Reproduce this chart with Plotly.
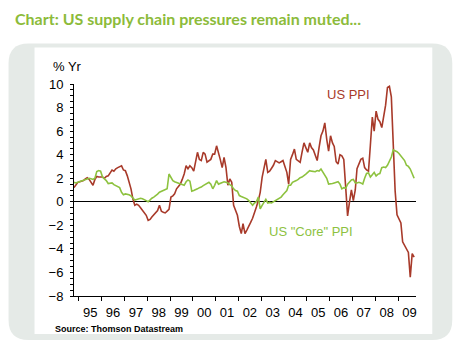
import plotly.graph_objects as go
import pandas as pd

# ---------------- data (monthly, Oct 1994 - Sep 2009) ----------------
start_month = "1994-10-15"
ppi = [
    1.2, 1.4, 1.65,
    1.7, 1.75, 1.8, 1.95, 2.05, 1.9, 1.6, 1.4, 1.9, 2.15, 2.1, 2.1,
    2.1, 2.0, 2.15, 2.2, 2.5, 2.7, 2.6, 2.8, 2.9, 3.0, 3.05, 2.7,
    2.64, 2.2, 1.65, 1.1, 0.25, -0.3, -0.2, -0.3, -0.5, -0.73, -0.9, -1.15,
    -1.58, -1.5, -1.3, -1.1, -0.9, -0.75, -0.3, -0.8, -0.9, -0.95, -0.8, -0.65,
    0.4, 0.5, 0.67, 1.1, 1.3, 1.5, 1.9, 2.36, 3.06, 2.8, 3.06, 2.9,
    2.6, 3.4, 4.2, 3.6, 3.5, 4.2, 4.05, 3.36, 3.5, 3.6, 4.05, 4.05,
    4.75, 4.2, 3.6, 2.9, 3.76, 2.9, 1.4, 1.94, 1.65, -0.3, -0.7, -1.15,
    -2.1, -2.7, -1.86, -2.7, -2.4, -2.0, -1.75, -1.4, -1.0, -0.45, 0.1, 0.8,
    2.07, 2.9, 3.6, 2.5, 2.6, 2.85, 3.1, 3.5, 3.4, 3.3, 3.4, 3.5,
    3.0, 2.5, 1.5, 3.6, 4.0, 4.47, 3.6, 3.5, 3.35, 4.2, 5.0, 4.6,
    4.2, 5.0, 4.6, 4.4, 4.0, 3.5, 4.6, 5.6, 6.0, 6.7, 5.3, 4.3,
    5.6, 5.0, 4.7, 3.4, 3.2, 4.0, 3.9, 3.6, 1.2, -1.2, 0.0, 1.0,
    0.1, 1.0, 2.8, 3.2, 3.6, 3.7, 2.9, 2.7, 2.6, 4.8, 7.2, 6.0,
    7.7, 7.0, 6.8, 6.3, 7.2, 8.2, 9.7, 9.8, 8.9, 4.8, 0.9, -1.1,
    -1.5, -1.8, -3.4, -3.7, -4.1, -4.3, -6.4, -4.4, -4.7,
]
core_ppi = [
    1.65, 1.6, 1.65,
    1.7, 1.75, 1.8, 1.85, 1.95, 2.0, 1.95, 1.9, 2.0, 2.56, 2.65, 2.6,
    2.1, 1.95, 1.8, 1.55, 1.6, 1.6, 1.45, 1.35, 1.3, 1.2, 0.8, 0.6,
    0.67, 0.65, 0.6, 0.5, 0.3, 0.15, 0.2, 0.25, 0.3, 0.25, 0.2, 0.1,
    0.0, 0.2, 0.3, 0.4, 0.5, 0.65, 0.81, 0.9, 0.95, 1.05, 1.1, 2.36,
    2.1, 1.8, 1.7, 1.65, 1.6, 1.55, 1.5, 1.4, 1.7, 1.85, 1.75, 0.9,
    0.95, 1.0, 1.1, 1.2, 1.25, 1.37, 1.45, 1.55, 1.65, 1.5, 1.1, 1.4,
    1.8, 1.5, 1.55, 1.65, 1.7, 1.65, 1.6, 1.45, 1.35, 1.1, 0.95, 0.9,
    0.53, 0.45, 0.4, 0.35, 0.25, 0.1, -0.1, -0.3, -0.1, 0.0, 0.4, -0.6,
    -0.3, 0.0, 0.2, -0.1, -0.05, -0.1, 0.0, 0.1, 0.2, 0.3, 0.4, 0.6,
    0.8, 0.95, 1.4, 1.4, 1.65, 1.7, 1.8, 1.9, 2.05, 2.1, 2.2, 2.35,
    2.5, 2.64, 2.6, 2.6, 2.55, 2.65, 2.6, 2.78, 2.5, 2.35, 2.0, 1.5,
    1.5, 1.55, 1.6, 1.65, 1.7, 1.5, 1.1, 1.2, 1.15, 1.5, 1.65, 1.85,
    1.9, 1.6, 1.6, 1.65, 1.6, 1.5, 2.0, 2.4, 2.45, 2.1, 2.3, 2.5,
    2.2, 2.35, 2.4, 2.9, 2.95, 2.9, 3.1, 3.4, 3.8, 4.4, 4.35, 4.25,
    4.1, 3.9, 3.65, 3.5, 3.1, 3.0, 2.78, 2.4, 2.0,
]
dates = pd.date_range("1994-10-01", periods=len(ppi), freq="MS") + pd.Timedelta(days=14)

y_ticks = [-8, -6, -4, -2, 0, 2, 4, 6, 8, 10]

RED = "#A83A2A"
GREEN = "#8DC23F"
TITLE_GREEN = "#8CBB3A"
PANEL = "#E5EAE7"

# ---------------- layout helpers (pixel -> paper) ----------------
W, H = 457, 354
L, R = 73.5, 415.7
T, B = 83.5, 295.9
pw, ph = R - L, B - T


def px(x):
    return (x - L) / pw


def py(y):
    return (B - y) / ph


def rounded_rect(x0, y0, x1, y1, r):
    pts = [
        f"M{px(x0 + r)},{py(y0)}",
        f"L{px(x1 - r)},{py(y0)}",
        f"Q{px(x1)},{py(y0)} {px(x1)},{py(y0 + r)}",
        f"L{px(x1)},{py(y1 - r)}",
        f"Q{px(x1)},{py(y1)} {px(x1 - r)},{py(y1)}",
        f"L{px(x0 + r)},{py(y1)}",
        f"Q{px(x0)},{py(y1)} {px(x0)},{py(y1 - r)}",
        f"L{px(x0)},{py(y0 + r)}",
        f"Q{px(x0)},{py(y0)} {px(x0 + r)},{py(y0)}",
        "Z",
    ]
    return " ".join(pts)


fig = go.Figure()
fig.add_trace(go.Scatter(x=dates, y=ppi, mode="lines", name="US PPI",
                         line=dict(color=RED, width=1.6)))
fig.add_trace(go.Scatter(x=dates, y=core_ppi, mode="lines", name='US "Core" PPI',
                         line=dict(color=GREEN, width=1.6)))

font_main = "Liberation Sans, Arial, sans-serif"

fig.update_layout(
    width=W, height=H,
    margin=dict(l=L, r=W - R, t=T, b=H - B, pad=0),
    paper_bgcolor="white",
    plot_bgcolor="rgba(0,0,0,0)",
    showlegend=False,
    font=dict(family=font_main, size=13, color="black"),
    xaxis=dict(
        type="date",
        range=["1994-10-15", "2009-10-15"],
        dtick="M12", tick0="1995-01-01",
        tickformat="%y", ticklabelmode="period",
        ticks="outside", ticklen=4, tickwidth=1, tickcolor="black",
        showline=True, linecolor="black", linewidth=1,
        showgrid=False, zeroline=False,
        tickfont=dict(size=13, color="black"),
    ),
    yaxis=dict(
        range=[-8, 10],
        tickvals=y_ticks,
        ticks="outside", ticklen=3, tickwidth=1, tickcolor="black",
        minor=dict(dtick=0.5, tick0=0, ticks="outside", ticklen=3, tickcolor="black", showgrid=False),
        showline=True, linecolor="black", linewidth=1,
        showgrid=False,
        zeroline=True, zerolinecolor="black", zerolinewidth=1,
        ticklabelstandoff=4,
        tickfont=dict(size=13, color="black"),
    ),
    shapes=[
        dict(type="path", xref="paper", yref="paper", path=rounded_rect(8, 43, 452, 340, 20),
             fillcolor=PANEL, line=dict(width=0), layer="below"),
        dict(type="rect", xref="paper", yref="paper", x0=px(34), x1=px(432), y0=py(334), y1=py(47),
             fillcolor="white", line=dict(width=0), layer="below"),
    ],
    annotations=[
        dict(text="Chart: US supply chain pressures remain muted...", xref="paper", yref="paper",
             x=px(12), y=py(18), xanchor="left", yanchor="middle", showarrow=False,
             font=dict(family="Lato, Noto Sans, sans-serif", size=16, color=TITLE_GREEN, weight="bold")),
        dict(text="% Yr", xref="paper", yref="paper", x=px(50), y=py(66),
             xanchor="left", yanchor="middle", showarrow=False,
             font=dict(size=13, color="black")),
        dict(text="US PPI", xref="paper", yref="paper", x=px(325), y=py(94),
             xanchor="left", yanchor="middle", showarrow=False,
             font=dict(size=13, color=RED)),
        dict(text='US "Core" PPI', xref="paper", yref="paper", x=px(267), y=py(231),
             xanchor="left", yanchor="middle", showarrow=False,
             font=dict(size=13, color=GREEN)),
        dict(text="<b>Source: Thomson Datastream</b>", xref="paper", yref="paper", x=px(52), y=py(329),
             xanchor="left", yanchor="middle", showarrow=False,
             font=dict(size=9, color="black")),
    ],
)

fig.write_html("out.html")
